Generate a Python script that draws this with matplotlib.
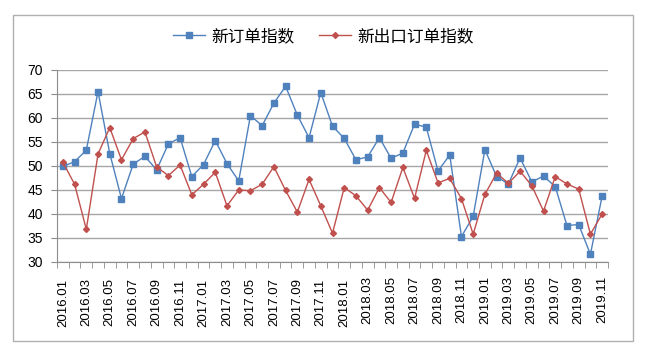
import numpy as np
import matplotlib
matplotlib.use('Agg')
import matplotlib.pyplot as plt
from matplotlib.patches import Rectangle
from matplotlib.transforms import ScaledTranslation

plt.rcParams['font.family'] = ['Liberation Sans', 'Noto Sans CJK SC', 'DejaVu Sans']

months = ['%d.%02d' % (y, m) for y in range(2016, 2020) for m in range(1, 13)][:47]

new_orders = [49.9, 50.9, 53.3, 65.5, 52.6, 43.2, 50.4, 52.0, 49.2, 54.6, 55.9, 47.8,
              50.3, 55.3, 50.5, 46.9, 60.5, 58.4, 63.1, 66.6, 60.6, 55.9, 65.3, 58.3,
              55.75, 51.3, 51.9, 55.9, 51.6, 52.7, 58.7, 58.1, 48.95, 52.3, 35.3, 39.5,
              53.4, 47.8, 46.25, 51.7, 46.7, 47.9, 45.7, 37.6, 37.8, 31.6, 43.75]

export_orders = [50.8, 46.2, 36.8, 52.5, 58.0, 51.3, 55.7, 57.1, 49.8, 48.0, 50.2, 44.0,
                 46.2, 48.7, 41.7, 45.0, 44.85, 46.2, 49.85, 44.9, 40.4, 47.2, 41.7, 36.0,
                 45.5, 43.8, 40.8, 45.5, 42.4, 49.7, 43.25, 53.25, 46.5, 47.4, 43.2, 35.8,
                 44.1, 48.5, 46.4, 48.9, 45.9, 40.6, 47.8, 46.25, 45.2, 35.8, 40.0]

fig = plt.figure(figsize=(6.47, 3.51), dpi=100)
fig.patches.append(Rectangle((13 / 647, 1 - 341 / 351), 620 / 647, 326 / 351,
                             transform=fig.transFigure, fill=False,
                             edgecolor='#b0b0b0', linewidth=1))

ax = fig.add_axes([57 / 647, 1 - 262 / 351, 551 / 647, 192 / 351])
x = np.arange(len(months))

ax.plot(x, new_orders, color='#4f81bd', marker='s', markersize=5, linewidth=1,
        label='新订单指数', zorder=3)
ax.plot(x, export_orders, color='#c0504d', marker='D', markersize=3, linewidth=1,
        label='新出口订单指数', zorder=3)

ax.set_xlim(-0.5, len(months) - 0.5)
ax.set_ylim(30, 70)
ax.set_yticks(np.arange(30, 71, 5))
ax.yaxis.grid(True, color='#a6a6a6', linewidth=1)
ax.set_axisbelow(True)

ax.set_xticks(x[::2])
ax.set_xticklabels(months[::2], rotation=90, fontsize=9.5)
ax.set_xticks(np.arange(-0.5, len(months), 1), minor=True)
ax.tick_params(axis='x', which='major', length=0, pad=10)
ax.tick_params(axis='x', which='minor', length=4, color='#8c8c8c')
ax.tick_params(axis='y', length=4, color='#8c8c8c', labelsize=10, pad=6)

# excel draws the first labels a little lower than the rest
shift = ScaledTranslation(0, -2.5 / 100, fig.dpi_scale_trans)
for lab in ax.get_xticklabels()[:13]:
    lab.set_transform(lab.get_transform() + shift)

for s in ['top', 'right']:
    ax.spines[s].set_visible(False)
for s in ['left', 'bottom']:
    ax.spines[s].set_color('#8c8c8c')

fig.legend(loc='center', bbox_to_anchor=(0.5, 1 - 36 / 351), ncol=2, frameon=False,
           fontsize=12, handlelength=1.9, handletextpad=0.4, columnspacing=1.5)

fig.savefig('out.png', dpi=100)
